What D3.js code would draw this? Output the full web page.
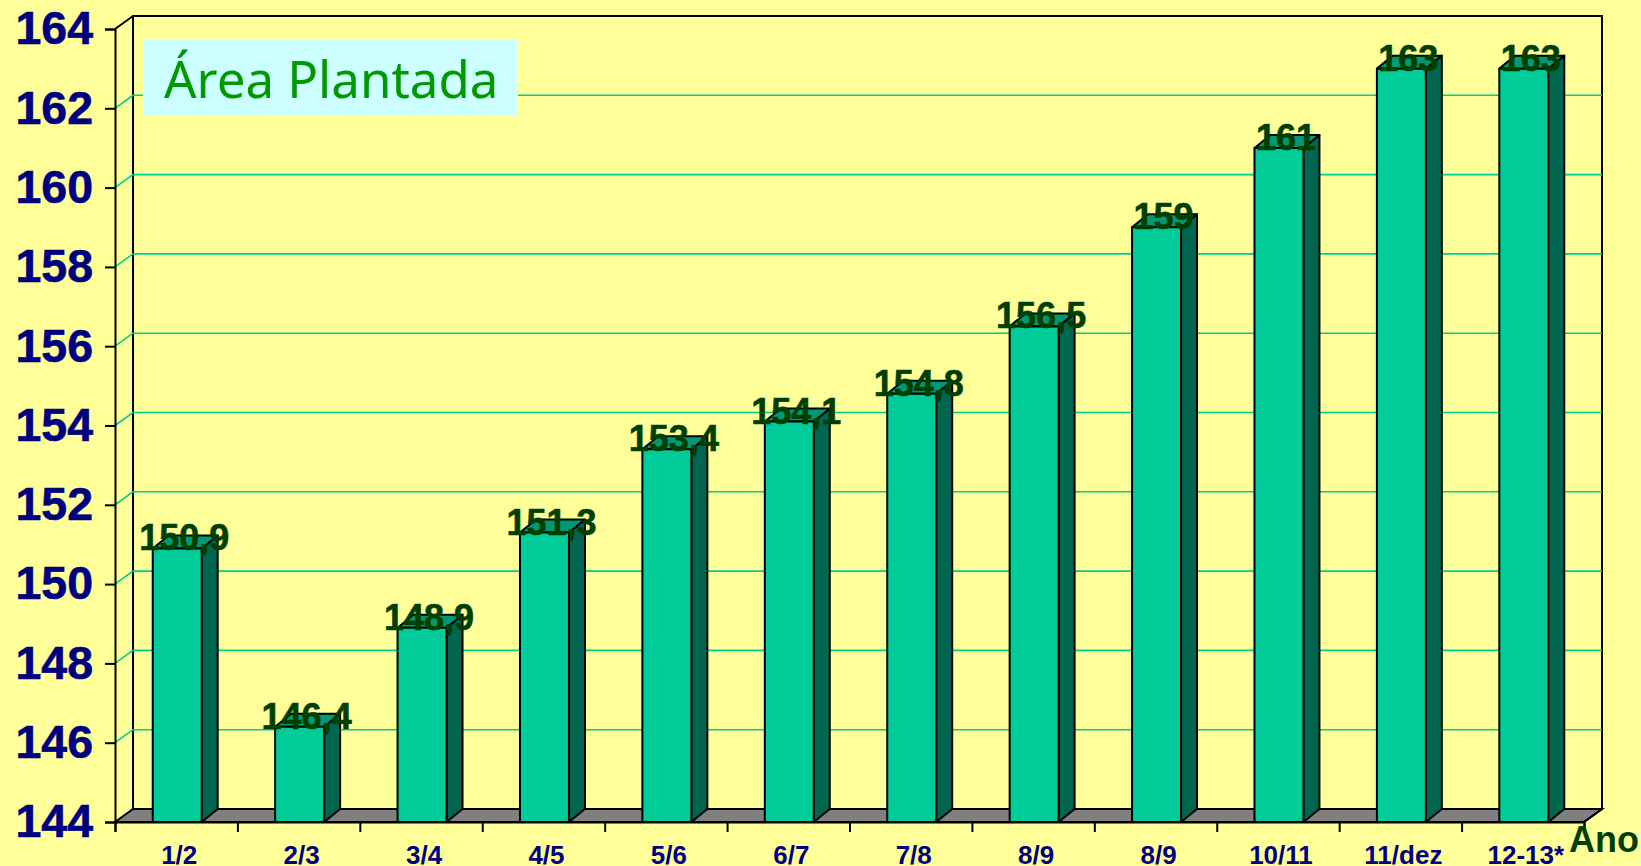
<!DOCTYPE html>
<html>
  <head>
    <meta charset="utf-8">
    <script src="https://d3js.org/d3.v7.min.js" type="text/JavaScript"></script>
    <style>
      html, body { margin: 0; padding: 0; background: #ffff99; overflow: hidden; }
      svg { display: block; font-family: "Liberation Sans", Arial, sans-serif; }
    </style>
  </head>
  <body>
    <svg id="chart"></svg>
    <script>
const categories = ['1/2', '2/3', '3/4', '4/5', '5/6', '6/7', '7/8', '8/9', '8/9', '10/11', '11/dez', '12-13*'];
const area = [150.9, 146.4, 148.9, 151.3, 153.4, 154.1, 154.8, 156.5, 159, 161, 163, 163];
const yTicks = [144, 146, 148, 150, 152, 154, 156, 158, 160, 162, 164];
const titleText = 'Área Plantada';
const xName = 'Ano';

const width = 1641, height = 866;
const plotLeft = 115, plotRight = 1584, plotBottom = 822, plotTop = 29;
// offset of the back wall, the fake 3d depth
const depthX = 18, depthY = -13;
const barDepthX = 16;

const svg = d3.select('#chart').attr('width', width).attr('height', height);

const x = d3.scaleBand().domain(d3.range(categories.length)).range([plotLeft + 1, plotRight + 1]).paddingInner(0.6).paddingOuter(0.3);
const xEdges = d3.scaleLinear().domain([0, categories.length]).range([plotLeft, plotRight]);
const y = d3.scaleLinear().domain([144, 164]).range([plotBottom, plotTop]);

// walls and floor
svg.append('polygon')
  .attr('points', [[plotLeft, plotBottom], [plotLeft + depthX, plotBottom + depthY], [plotRight + depthX, plotBottom + depthY], [plotRight, plotBottom]].join(' '))
  .style('fill', '#808080')
  .style('stroke', 'black')
  .style('stroke-width', 2);

svg.append('rect')
  .attr('x', plotLeft + depthX)
  .attr('y', plotTop + depthY)
  .attr('width', plotRight - plotLeft)
  .attr('height', plotBottom - plotTop)
  .style('fill', 'none')
  .style('stroke', 'black')
  .style('stroke-width', 2);

svg.append('line')
  .attr('x1', plotLeft).attr('y1', plotTop)
  .attr('x2', plotLeft + depthX).attr('y2', plotTop + depthY)
  .style('stroke', 'black')
  .style('stroke-width', 2);

// gridlines, back wall plus the diagonal on the side wall
const grid = yTicks.filter(d => d > 144 && d < 164);
svg.append('g')
  .selectAll('polyline')
  .data(grid)
  .enter()
  .append('polyline')
    .attr('points', d => [[plotLeft, y(d)], [plotLeft + depthX, y(d) + depthY], [plotRight + depthX, y(d) + depthY]].join(' '))
    .style('fill', 'none')
    .style('stroke', '#00cc99')
    .style('stroke-width', 1.6);

// axes
const yAxis = svg.append('g')
  .attr('transform', `translate(${plotLeft}, 0)`)
  .call(d3.axisLeft(y).tickValues(yTicks).tickSize(10).tickPadding(12).tickFormat(d3.format('d')));
yAxis.selectAll('text')
  .style('font-size', '46.5px')
  .style('font-weight', 'bold')
  .style('font-family', '"Liberation Sans", Arial, sans-serif')
  .style('fill', '#000080')
  .style('stroke', '#000080')
  .style('stroke-width', 0.6);

const xAxis = svg.append('g')
  .attr('transform', `translate(0, ${plotBottom})`)
  .call(d3.axisBottom(xEdges).tickValues(d3.range(categories.length + 1)).tickSize(10).tickFormat(''));

[yAxis, xAxis].forEach(a => {
  a.selectAll('path, line').style('stroke', 'black').style('stroke-width', 2);
});

svg.append('line')
  .attr('x1', plotRight).attr('y1', plotBottom)
  .attr('x2', plotRight + depthX).attr('y2', plotBottom + depthY)
  .style('stroke', 'black')
  .style('stroke-width', 2);

// bars
const bars = svg.append('g')
  .selectAll('g')
  .data(area)
  .enter()
  .append('g')
    .attr('transform', (d, i) => `translate(${x(i)}, ${y(d)})`)
    .style('stroke', 'black')
    .style('stroke-width', 2)
    .style('stroke-linejoin', 'round');

const w = x.bandwidth();

bars.append('polygon')
  .attr('points', d => [[w, 0], [w + barDepthX, depthY], [w + barDepthX, plotBottom - y(d) + depthY], [w, plotBottom - y(d)]].join(' '))
  .style('fill', '#006650');

bars.append('polygon')
  .attr('points', [[0, 0], [barDepthX, depthY], [w + barDepthX, depthY], [w, 0]].join(' '))
  .style('fill', '#009973');

bars.append('rect')
  .attr('width', w)
  .attr('height', d => plotBottom - y(d))
  .style('fill', '#00cc99');

// value labels sit on top of everything, with a decimal comma
svg.append('g')
  .selectAll('text')
  .data(area)
  .enter()
  .append('text')
    .attr('x', (d, i) => x(i) + w / 2 + 7)
    .attr('y', d => y(d) + 2)
    .attr('text-anchor', 'middle')
    .text(d => String(d).replace('.', ','))
    .style('font-size', '36px')
    .style('font-weight', 'bold')
    .style('fill', '#003f00')
    .style('stroke', '#003f00')
    .style('stroke-width', 0.6);

// category labels
svg.append('g')
  .selectAll('text')
  .data(categories)
  .enter()
  .append('text')
    .attr('x', (d, i) => x(i) + w / 2 + 2)
    .attr('y', 864)
    .attr('text-anchor', 'middle')
    .text(d => d)
    .style('font-size', '26px')
    .style('font-weight', 'bold')
    .style('fill', '#000080');

svg.append('text')
  .attr('x', 1569)
  .attr('y', 852)
  .text(xName)
  .style('font-size', '36px')
  .style('font-weight', 'bold')
  .style('fill', '#003f00');

// title box
svg.append('rect')
  .attr('x', 143)
  .attr('y', 40)
  .attr('width', 375)
  .attr('height', 76)
  .style('fill', '#ccffff');

svg.append('text')
  .attr('x', 164)
  .attr('y', 98)
  .text(titleText)
  .style('font-family', '"Noto Sans", sans-serif')
  .style('font-size', '51px')
  .style('fill', '#009900');
    </script>
  </body>
</html>
